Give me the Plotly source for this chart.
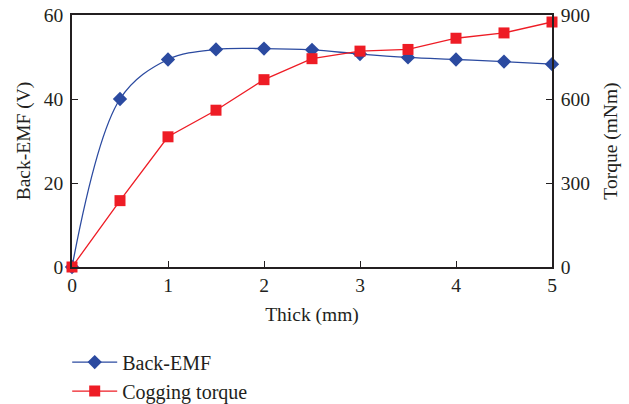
import plotly.graph_objects as go

thick = [0, 0.5, 1, 1.5, 2, 2.5, 3, 3.5, 4, 4.5, 5]
back_emf = [0, 40, 49.4, 51.8, 52.0, 51.7, 50.7, 49.9, 49.4, 48.9, 48.3]
cogging = [0, 237, 465, 560, 669, 744, 771, 777, 817, 836, 875]

blue = "#2b4aa0"
red = "#ee1c25"
axc = "#231f20"
fam = "Liberation Serif"
font = dict(family=fam, size=19.5, color=axc)

fig = go.Figure()
fig.add_trace(go.Scatter(
    x=thick, y=back_emf, name="Back-EMF", mode="lines+markers",
    line=dict(color=blue, width=1.3, shape="spline", smoothing=1.0),
    marker=dict(symbol="diamond", size=11, color=blue),
    cliponaxis=False, yaxis="y"))
fig.add_trace(go.Scatter(
    x=thick, y=cogging, name="Cogging torque", mode="lines+markers",
    line=dict(color=red, width=1.3),
    marker=dict(symbol="square", size=11, color=red),
    cliponaxis=False, yaxis="y2"))

axis_common = dict(showgrid=False, zeroline=False, showline=True,
                   linecolor=axc, linewidth=1.5, ticks="inside",
                   ticklen=6, tickwidth=1.3, tickcolor=axc,
                   tickfont=font, title_font=font, automargin=False)

fig.update_layout(
    width=629, height=404,
    margin=dict(l=72, r=77, t=15, b=137, autoexpand=False),
    paper_bgcolor="white", plot_bgcolor="white",
    font=font,
    xaxis=dict(range=[0, 5], dtick=1, mirror=True,
               title=dict(text="Thick (mm)", standoff=12), **axis_common),
    yaxis=dict(range=[0, 60], dtick=20, ticklabelstandoff=3,
               title=dict(text="Back-EMF (V)", standoff=8), **axis_common),
    yaxis2=dict(range=[0, 900], dtick=300, overlaying="y", side="right",
                ticklabelstandoff=3,
                title=dict(text="Torque (mNm)", standoff=14), **axis_common),
    legend=dict(x=-0.01, y=0.152, xanchor="left", yanchor="top",
                yref="container", itemwidth=45,
                font=dict(family=fam, size=20, color=axc),
                bgcolor="rgba(0,0,0,0)", tracegroupgap=0),
    showlegend=True,
)

fig.write_html("out.html")
